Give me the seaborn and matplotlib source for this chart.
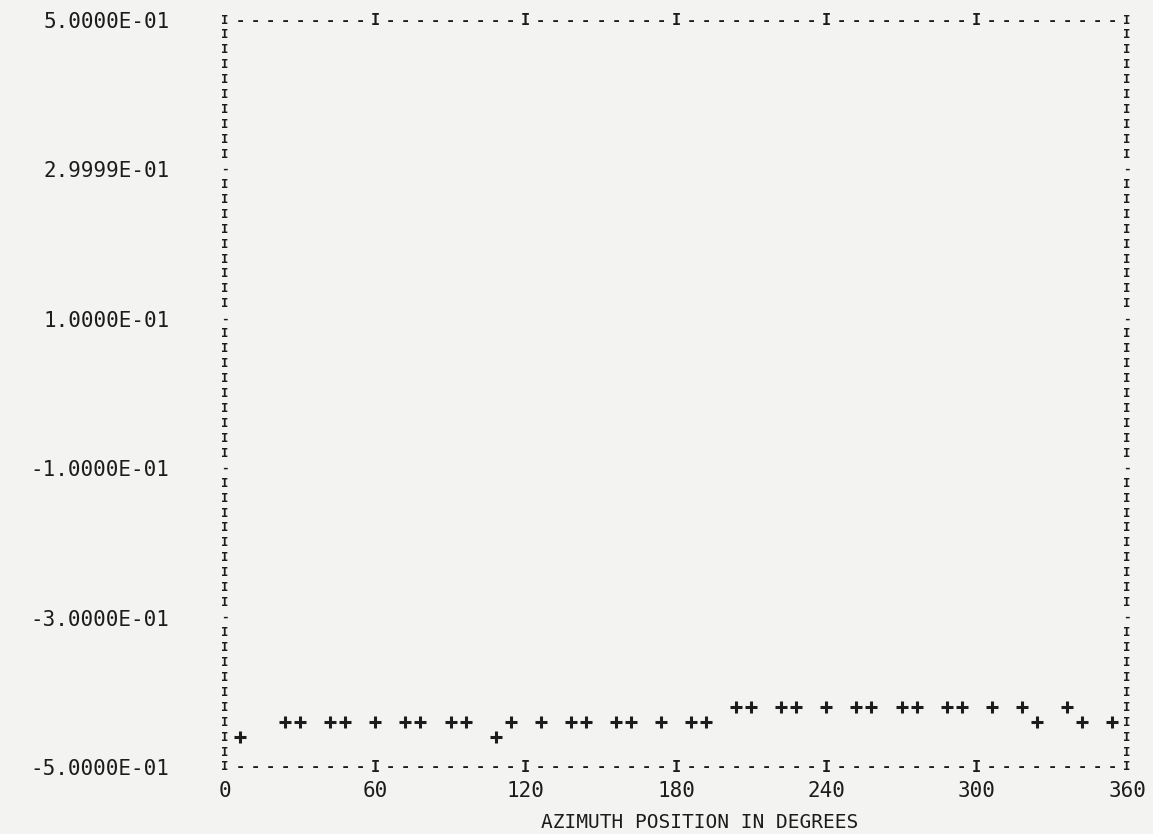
import numpy as np
import pandas as pd
import matplotlib
matplotlib.use('Agg')
import matplotlib.pyplot as plt
import seaborn as sns

# --- 1. Values (one '+' per printed column) ---
azimuth = [6, 24, 30, 42, 48, 60, 72, 78, 90, 96,
           108, 114, 126, 138, 144, 156, 162, 174, 186, 192,
           204, 210, 222, 228, 240, 252, 258, 270, 276, 288,
           294, 306, 318, 324, 336, 342, 354]
response = [-0.46, -0.44, -0.44, -0.44, -0.44, -0.44, -0.44, -0.44, -0.44, -0.44,
            -0.46, -0.44, -0.44, -0.44, -0.44, -0.44, -0.44, -0.44, -0.44, -0.44,
            -0.42, -0.42, -0.42, -0.42, -0.42, -0.42, -0.42, -0.42, -0.42, -0.42,
            -0.42, -0.42, -0.42, -0.44, -0.42, -0.44, -0.44]

y_ticks = [0.5, 0.3, 0.1, -0.1, -0.3, -0.5]
y_tick_labels = ['5.0000E-01', '2.9999E-01', '1.0000E-01',
                 '-1.0000E-01', '-3.0000E-01', '-5.0000E-01']
x_ticks = [0, 60, 120, 180, 240, 300, 360]
x_label = 'AZIMUTH POSITION IN DEGREES'

df = pd.DataFrame({'azimuth': azimuth, 'response': response})

# --- 2. Style: plain paper, printer-like mono font ---
sns.set_theme(style='white')
plt.rcParams['font.family'] = ['DejaVu Sans Mono', 'DejaVu Sans']
ink = '#1c1c1c'
paper = '#f3f3f1'

fig = plt.figure(figsize=(11.53, 8.34), dpi=100, facecolor=paper)
ax = fig.add_axes([225 / 1153, 1 - 767 / 834, 902 / 1153, 747 / 834])
ax.set_facecolor(paper)

# --- 3. Data points ---
sns.scatterplot(data=df, x='azimuth', y='response', marker='+', s=80,
                linewidth=2.2, color=ink, ax=ax, clip_on=False, zorder=3)

ax.set_xlim(0, 360)
ax.set_ylim(-0.5, 0.5)
for s in ax.spines.values():
    s.set_visible(False)

# --- 4. Printer frame built from 'I' and '-' characters ---
# side columns: small enough that stacked rows don't collide
side_kw = dict(ha='center', va='center', color=ink, fontsize=9,
               fontweight='bold', clip_on=False)
edge_kw = dict(side_kw, fontsize=11)
rows = np.round(np.linspace(-0.5, 0.5, 51), 2)
for r in rows:
    c = '-' if (r in y_ticks and abs(r) != 0.5) else 'I'
    ax.text(0, r, c, **side_kw)
    ax.text(360, r, c, **side_kw)
cols = np.arange(6, 360, 6)
for cx in cols:
    c = 'I' if cx % 60 == 0 else '-'
    ax.text(cx, 0.5, c, **edge_kw)
    ax.text(cx, -0.5, c, **edge_kw)

# --- 5. Axis labels ---
ax.set_yticks(y_ticks)
ax.set_yticklabels(y_tick_labels)
ax.set_xticks(x_ticks)
ax.set_xticklabels([str(t) for t in x_ticks])
ax.tick_params(axis='y', length=0, pad=40, labelsize=15, labelcolor=ink)
ax.tick_params(axis='x', length=0, pad=10, labelsize=15, labelcolor=ink)
ax.set_xlabel('')
ax.set_ylabel('')
fig.text(700 / 1153, 1 - 822 / 834, x_label, ha='center', va='center',
         fontsize=14, color=ink)

fig.savefig('out.png', dpi=100, facecolor=paper)
